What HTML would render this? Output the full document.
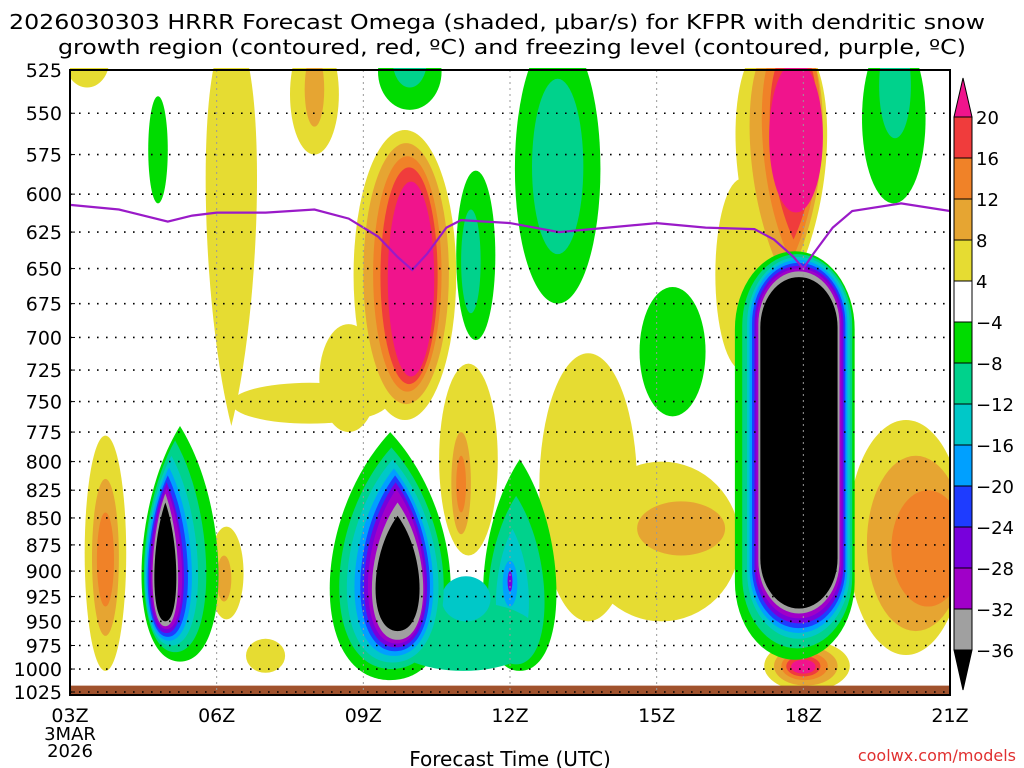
<!DOCTYPE html>
<html><head><meta charset="utf-8"><style>
body{margin:0;background:#fff;}
svg{display:block;font-family:"DejaVu Sans","Liberation Sans",sans-serif;}
</style></head><body>
<svg id="chart" width="1024" height="768" viewBox="0 0 1024 768" xmlns="http://www.w3.org/2000/svg">
<text x="497" y="29" text-anchor="middle" font-size="20" textLength="976" lengthAdjust="spacingAndGlyphs">2026030303 HRRR Forecast Omega (shaded, μbar/s) for KFPR with dendritic snow</text>
<text x="512" y="54" text-anchor="middle" font-size="20" textLength="908" lengthAdjust="spacingAndGlyphs">growth region (contoured, red, ºC) and freezing level (contoured, purple, ºC)</text>
<g id="plot"></g>
<g id="axes"></g>
<g id="cbar"></g>
<text x="510" y="766" text-anchor="middle" font-size="20">Forecast Time (UTC)</text>
<text x="1016" y="761" text-anchor="end" font-size="16" fill="#e03030">coolwx.com/models</text>
</svg>
<script>
const COLORS=["#000000","#a0a0a0","#a000c8","#7800dc","#1e3cff","#00a0ff","#00c8c8","#00d28c","#00dc00","#ffffff","#e6dc32","#e6a532","#f08228","#f03c3c","#f0148c"];
const cbarLabels=["20","16","12","8","4","−4","−8","−12","−16","−20","−24","−28","−32","−36"];
const pTicks=[525,550,575,600,625,650,675,700,725,750,775,800,825,850,875,900,925,950,975,1000,1025];
const hourTicks=[3,6,9,12,15,18,21];
const hourLabels=["03Z","06Z","09Z","12Z","15Z","18Z","21Z"];
const fzHours=[3,4,5,5.5,6,7,8,8.7,9.3,9.7,10,10.3,10.7,11,12,13,14,15,16,17,17.4,17.8,18,18.2,18.6,19,20,21];
const fzPres=[607,610,618,614,612,612,610,616,628,642,651,640,622,617,619,625,622,619,622,623,630,642,650,640,622,611,606,611];
// features: [shape, h0, h1, pTop, pBot, colorIndex]
const features=[
["idrop",5.6,7.0,505,770,10],["ell",2.9,3.8,505,535,10],["ell",7.5,8.5,505,575,10],["ell",7.8,8.2,515,558,11],
["ell",6.3,9.5,735,768,10],["ell",8.1,9.3,690,775,10],
["ell",10.55,11.75,720,885,10],["ell",10.8,11.2,775,865,11],["ell",10.9,11.1,795,845,12],
["ell",12.6,14.6,712,950,10],["ell",13.5,16.7,800,950,10],["ell",14.6,16.4,835,885,11],
["ell",18.9,21.3,765,985,10],["ell",19.3,21.3,795,960,11],["ell",19.8,21.3,825,935,12],
["ell",3.3,4.15,778,1002,10],["ell",3.45,4.0,815,965,11],["ell",3.55,3.9,845,935,12],
["ell",5.85,6.55,858,948,10],["ell",6.0,6.3,885,930,11],
["ell",6.6,7.4,968,1004,10],
["ell",16.2,17.3,590,725,10],
["idrop",16.3,18.8,505,676,10],["idrop",16.65,18.65,505,660,11],["idrop",16.95,18.55,505,645,12],["idrop",17.15,18.45,512,630,13],["ell",17.3,18.4,520,612,14],
["ell",8.8,10.9,560,765,10],["ell",9.0,10.75,568,752,11],["ell",9.2,10.6,576,742,12],["ell",9.35,10.52,583,736,13],["ell",9.5,10.45,592,730,14],
["ell",17.2,18.95,970,1024,10],["ell",17.4,18.7,976,1018,11],["ell",17.55,18.5,982,1012,12],["ell",17.65,18.35,986,1008,13],["ell",17.75,18.25,990,1005,14],
["ell",12.1,13.85,505,675,8],["ell",12.45,13.5,530,640,7],
["ell",9.3,10.6,505,548,8],["ell",9.6,10.3,505,535,7],
["ell",19.2,20.5,505,606,8],["ell",19.55,20.2,505,565,7],
["ell",10.9,11.7,585,702,8],["ell",11.0,11.4,610,682,7],
["ell",14.65,16.0,663,762,8],
["ell",4.6,5.0,540,606,8],
["drop",11.2,13.2,798,1002,8],["drop",11.35,12.9,830,995,7],["drop",11.6,12.5,860,975,6],["ell",11.85,12.15,890,935,5],["ell",11.95,12.05,900,920,3],
["drop",7.9,11.2,775,1012,8],["ell",9.5,12.6,930,1002,7],["ell",10.6,11.6,905,950,6],
["drop",8.15,11.0,788,1000,7],["drop",8.35,10.85,798,993,6],["drop",8.55,10.7,806,986,5],["drop",8.7,10.6,812,981,4],["drop",8.8,10.52,818,977,3],["drop",8.9,10.45,824,973,2],["drop",9.0,10.4,836,969,1],["drop",9.1,10.3,848,960,0],
["drop",4.2,6.3,770,992,8],["drop",4.3,6.0,782,982,7],["drop",4.35,5.8,795,975,6],["drop",4.4,5.65,805,970,5],["drop",4.45,5.55,812,966,4],["drop",4.5,5.45,818,962,3],["drop",4.55,5.4,823,958,2],["drop",4.6,5.3,828,955,1],["drop",4.65,5.25,836,950,0],
["rect",16.6,19.05,638,990,8],["rect",16.75,19.0,640,978,7],["rect",16.85,18.95,642,968,6],["rect",16.9,18.9,644,962,5],["rect",16.95,18.86,646,957,4],["rect",17.0,18.82,648,952,3],["rect",17.04,18.78,650,947,2],["rect",17.08,18.74,652,942,1],["rect",17.12,18.7,656,937,0]
];
const X0=70,X1=950,Y0=70,Y1=692,PB=695;
function xs(h){return X0+(h-3)/18*(X1-X0);}
function ys(p){return Y0+(Math.log(p)-Math.log(525))/(Math.log(1025)-Math.log(525))*(Y1-Y0);}
const NS="http://www.w3.org/2000/svg";
function mk(tag,attrs,parent){const e=document.createElementNS(NS,tag);for(const k in attrs)e.setAttribute(k,attrs[k]);parent.appendChild(e);return e;}
const plot=document.getElementById('plot');
const defs=mk('defs',{},plot);
const cp=mk('clipPath',{id:'pc'},defs);mk('rect',{x:X0,y:Y0-2,width:X1-X0,height:PB-Y0+2},cp);
const g=mk('g',{'clip-path':'url(#pc)'},plot);
mk('rect',{x:X0,y:Y0-2,width:X1-X0,height:PB-Y0+2,fill:'#fff'},g);
features.forEach((f,i)=>{
 const [s,h0,h1,p0,p1,c]=f;const x0=xs(h0),x1=xs(h1),y0=ys(p0),y1=ys(p1),cx=(x0+x1)/2,cy=(y0+y1)/2;
 let el;
 if(s==='ell'){el=mk('ellipse',{cx:cx,cy:cy,rx:(x1-x0)/2,ry:(y1-y0)/2,fill:COLORS[c]},g);}
 else if(s==='rect'){const r=(x1-x0)/2;el=mk('rect',{x:x0,y:y0,width:x1-x0,height:y1-y0,rx:r,ry:r*1.3,fill:COLORS[c]},g);}
 else if(s==='drop'){const hh=y1-y0;el=mk('path',{d:`M${cx},${y0} C${x1},${y0+0.35*hh} ${x1},${y1} ${cx},${y1} C${x0},${y1} ${x0},${y0+0.35*hh} ${cx},${y0}Z`,fill:COLORS[c]},g);}
 else {const hh=y1-y0;el=mk('path',{d:`M${cx},${y1} C${x1},${y1-0.35*hh} ${x1},${y0} ${cx},${y0} C${x0},${y0} ${x0},${y1-0.35*hh} ${cx},${y1}Z`,fill:COLORS[c]},g);}
 
 
});
const brown=mk('rect',{x:X0,y:ys(1018),width:X1-X0,height:PB-ys(1018),fill:'#a0522d'},g);


const ax=document.getElementById('axes');
pTicks.forEach((p,i)=>{const y=ys(p);
 const l=mk('line',{x1:X0,x2:X1,y1:y,y2:y,stroke:'#000','stroke-width':1.6,'stroke-dasharray':'1.6 7.4'},ax);
 
 
 const t=mk('text',{x:62,y:y+7,'text-anchor':'end','font-size':19},ax);t.textContent=p;
 
 
 mk('line',{x1:X0,x2:X0+5,y1:y,y2:y,stroke:'#000','stroke-width':1},ax);
});
hourTicks.forEach((h,i)=>{const x=xs(h);
 if(i>0&&i<hourTicks.length-1){const l=mk('line',{x1:x,x2:x,y1:Y0,y2:PB,stroke:'#999','stroke-width':1,'stroke-dasharray':'2 4'},ax);
 
 }
 const t=mk('text',{x:x,y:722,'text-anchor':'middle','font-size':19},ax);t.textContent=hourLabels[i];
 
 
});
const d1=mk('text',{x:70,y:740,'text-anchor':'middle','font-size':18},ax);d1.textContent='3MAR';


const d2=mk('text',{x:70,y:757,'text-anchor':'middle','font-size':18},ax);d2.textContent='2026';


let d='';fzHours.forEach((h,i)=>{d+=(i?'L':'M')+xs(h).toFixed(1)+','+ys(fzPres[i]).toFixed(1);});
const fl=mk('path',{d:d,fill:'none',stroke:'#9a1ac8','stroke-width':2.2},g);


mk('rect',{x:X0,y:Y0,width:X1-X0,height:PB-Y0,fill:'none',stroke:'#000','stroke-width':2},ax);
const cb=document.getElementById('cbar');const CX=954,CW=18,CT=117,STEP=41;
const tri=mk('path',{d:`M${CX},${CT} L${CX+CW/2},${78} L${CX+CW},${CT}Z`,fill:COLORS[14],stroke:'#000'},cb);


for(let k=0;k<13;k++){const r=mk('rect',{x:CX,y:CT+k*STEP,width:CW,height:STEP,fill:COLORS[13-k],stroke:'#000'},cb);
 
 }
const tri2=mk('path',{d:`M${CX},${CT+13*STEP} L${CX+CW/2},${690} L${CX+CW},${CT+13*STEP}Z`,fill:'#000',stroke:'#000'},cb);


cbarLabels.forEach((s,k)=>{const t=mk('text',{x:976,y:CT+k*STEP+7,'font-size':18},cb);t.textContent=s;
 
 });
</script>
</body></html>
